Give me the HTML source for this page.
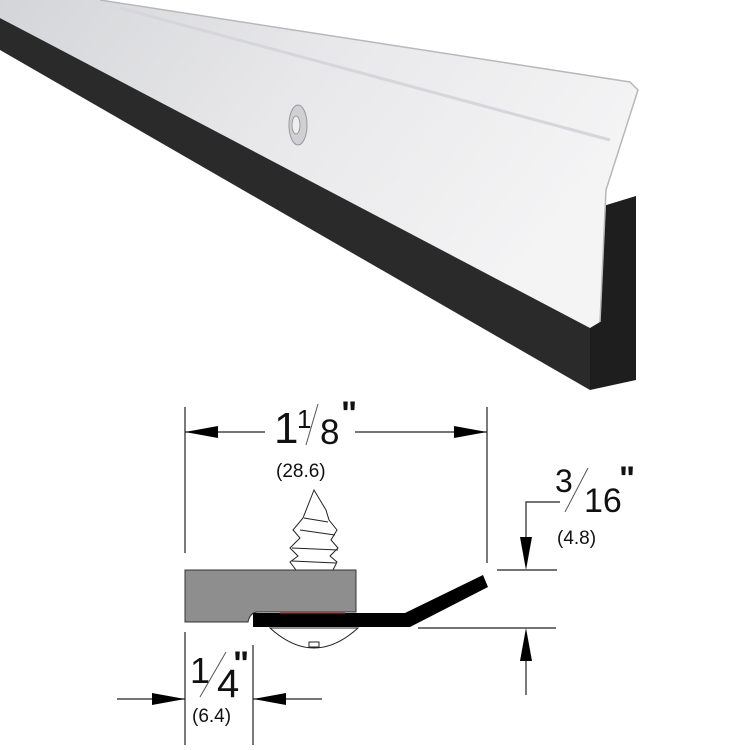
<!DOCTYPE html>
<html><head><meta charset="utf-8"><style>
html,body{margin:0;padding:0;background:#fff;}
svg{display:block;}
text{font-family:"Liberation Sans",Arial,sans-serif;fill:#111;}
</style></head><body>
<svg width="750" height="750" viewBox="0 0 750 750" xmlns="http://www.w3.org/2000/svg">
<defs>
<linearGradient id="sil" x1="0" y1="0" x2="1" y2="0.4">
<stop offset="0" stop-color="#d4d5d8"/><stop offset="0.5" stop-color="#e8e8ea"/><stop offset="1" stop-color="#f4f4f5"/>
</linearGradient>
</defs>
<rect width="750" height="750" fill="#fff"/>
<polygon points="0,18 590,318 590,390 0,50" fill="#2a2a2a"/>
<polygon points="590,210 636,196 636,380 590,390" fill="#1e1e1e"/>
<polygon points="0,0 100,0 630,82 638,90 606,190 600,322 590,328 0,18" fill="url(#sil)"/>
<polyline points="100,0 630,82 638,90 606,190 600,322" fill="none" stroke="#b8b8bc" stroke-width="1.5"/>
<line x1="120" y1="8" x2="610" y2="140" stroke="#d6d6da" stroke-width="3"/>
<ellipse cx="298" cy="125" rx="9" ry="20" fill="#d0d0d4" stroke="#999" stroke-width="1"/>
<ellipse cx="296" cy="125" rx="4" ry="9" fill="#eee" stroke="#888" stroke-width="0.8"/>

<g stroke="#222" stroke-width="1.2" fill="none">
<line x1="185" y1="407" x2="185" y2="553"/>
<line x1="487" y1="407" x2="487" y2="563"/>
<line x1="185" y1="432" x2="265" y2="432"/>
<line x1="355" y1="432" x2="487" y2="432"/>
<line x1="185" y1="632" x2="185" y2="745"/>
<line x1="253" y1="645" x2="253" y2="745"/>
<line x1="117" y1="699" x2="185" y2="699"/>
<line x1="253" y1="699" x2="322" y2="699"/>
<polyline points="560,502 526,502 526,560"/>
<line x1="497" y1="570" x2="557" y2="570"/>
<line x1="418" y1="628" x2="556" y2="628"/>
<line x1="526" y1="640" x2="526" y2="695"/>
</g>
<g fill="#000">
<polygon points="185,432 218,426 218,438"/>
<polygon points="487,432 454,426 454,438"/>
<polygon points="185,699 152,693 152,705"/>
<polygon points="253,699 286,693 286,705"/>
<polygon points="526,570 520,537 532,537"/>
<polygon points="526,628 520,661 532,661"/>
</g>
<g stroke="#222" stroke-width="1" fill="#fff">
<polygon points="314,490 303,518 293,530 300,538 290,548 298,556 290,562 296,570 333,570 337,562 330,556 338,548 331,540 337,530 329,520 326,510"/>
<line x1="300" y1="530" x2="335" y2="535"/>
<line x1="292" y1="548" x2="338" y2="550"/>
<line x1="292" y1="561" x2="336" y2="563"/>
<line x1="304" y1="518" x2="328" y2="522"/>
</g>
<path d="M185,570 H356 V612 H258 Q250,612 248,622 H185 Z" fill="#8e8e8e" stroke="#333" stroke-width="1"/>
<path d="M270,628 Q314,668 358,628 Z" fill="#fff" stroke="#222" stroke-width="1"/>
<rect x="309" y="642" width="10" height="5" fill="#fff" stroke="#222" stroke-width="1"/>
<path d="M253,613 H405 L483,575 L488,587 L410,627 H253 Z" fill="#000"/>
<line x1="280" y1="613.5" x2="345" y2="613.5" stroke="#6a1010" stroke-width="1.5"/>
<text x="274" y="443" font-size="44">1</text>
<text x="297" y="428" font-size="26">1</text>
<line x1="318" y1="404" x2="306" y2="445" stroke="#555" stroke-width="1"/>
<text x="320" y="444" font-size="35">8</text>
<text x="341" y="425" font-size="34" font-weight="bold">"</text>
<text x="276" y="477" font-size="19">(28.6)</text>
<text x="555" y="492" font-size="32">3</text>
<line x1="588" y1="468" x2="565" y2="512" stroke="#555" stroke-width="1"/>
<text x="584" y="512" font-size="34">16</text>
<text x="619" y="490" font-size="34" font-weight="bold">"</text>
<text x="557" y="544" font-size="19">(4.8)</text>
<text x="190" y="683" font-size="36">1</text>
<line x1="226" y1="652" x2="200" y2="697" stroke="#555" stroke-width="1"/>
<text x="217" y="697" font-size="40">4</text>
<text x="233" y="675" font-size="34" font-weight="bold">"</text>
<text x="192" y="722" font-size="19">(6.4)</text>
</svg>
</body></html>
